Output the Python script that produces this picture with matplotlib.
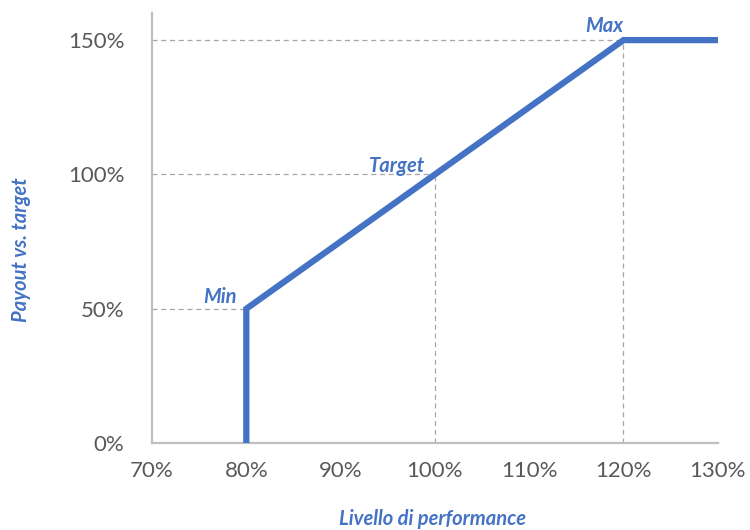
import matplotlib.pyplot as plt
from matplotlib.ticker import FuncFormatter

# payout curve
perf = [80, 80, 120, 130]
payout = [0, 50, 150, 150]

# reference levels (min, target, max)
ref_names = ["Min", "Target", "Max"]
ref_perf = [80, 100, 120]
ref_payout = [50, 100, 150]

xticks = [70, 80, 90, 100, 110, 120, 130]
yticks = [0, 50, 100, 150]

blue = "#4472C4"
grey_txt = "#595959"
grid_col = "#A6A6A6"

plt.rcParams['font.family'] = ['Lato', 'DejaVu Sans']

fig = plt.figure(figsize=(7.5, 5.3), dpi=100)
ax = fig.add_axes([0.2027, 0.164, 0.7543, 0.811])

# dashed guide lines
for px, py in zip(ref_perf, ref_payout):
    ax.plot([70, px], [py, py], color=grid_col, lw=0.9, ls=(0, (4, 3)), zorder=1)
    if px > 80:
        ax.plot([px, px], [0, py], color=grid_col, lw=0.9, ls=(0, (4, 3)), zorder=1)

ax.plot(perf, payout, color=blue, lw=4.5, solid_joinstyle='miter', zorder=3)

# labels of reference points
lab = dict(color=blue, fontsize=14.5, fontweight='bold', style='italic', va='bottom')
ax.text(ref_perf[0] - 1, ref_payout[0] + 0.5, ref_names[0], ha='right', **lab)
ax.text(ref_perf[1] - 4, ref_payout[1] - 0.5, ref_names[1], ha='center', **lab)
ax.text(ref_perf[2] - 2, ref_payout[2] + 1.5, ref_names[2], ha='center', **lab)

ax.set_xlim(70, 130)
ax.set_ylim(0, 160)
ax.set_xticks(xticks)
ax.set_yticks(yticks)
ax.xaxis.set_major_formatter(FuncFormatter(lambda v, p: f"{v:.0f}%"))
ax.yaxis.set_major_formatter(FuncFormatter(lambda v, p: f"{v:.0f}%"))
ax.tick_params(length=0, labelsize=16, labelcolor=grey_txt)
ax.tick_params(axis='x', pad=13)
ax.tick_params(axis='y', pad=20)

for s in ['top', 'right']:
    ax.spines[s].set_visible(False)
for s in ['left', 'bottom']:
    ax.spines[s].set_color("#BFBFBF")
    ax.spines[s].set_linewidth(1.6)

fig.text(0.577, 0.02, "Livello di performance", color=blue, fontsize=14.5,
         fontweight='bold', style='italic', ha='center', va='center')
fig.text(0.028, 0.528, "Payout vs. target", color=blue, fontsize=14.5,
         fontweight='bold', style='italic', ha='center', va='center', rotation=90)

fig.savefig("out.png", dpi=100)
